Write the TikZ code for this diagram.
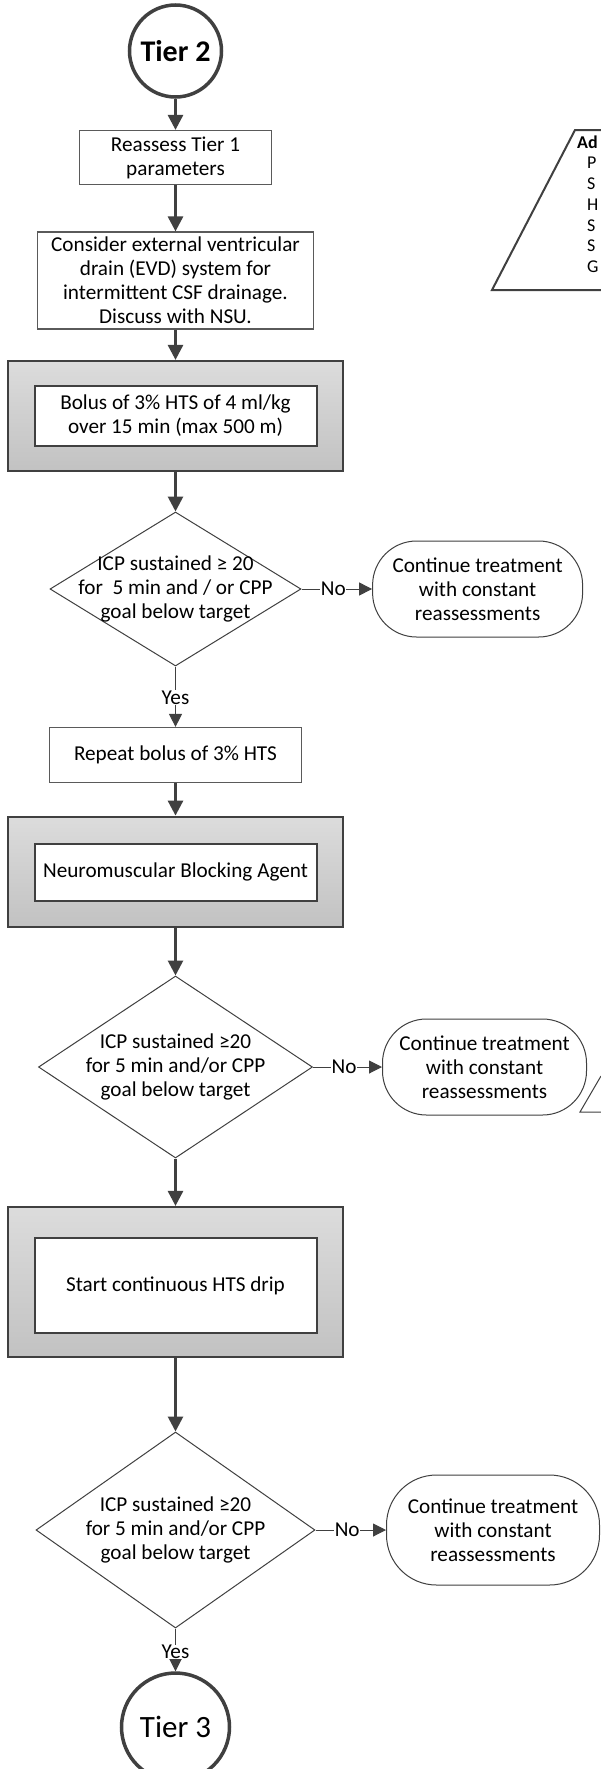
\documentclass[tikz,border=0pt]{standalone}
\usepackage{fontspec}
\setmainfont{Carlito}
\usetikzlibrary{shapes.geometric,arrows.meta}
\definecolor{dk}{HTML}{404040}
\definecolor{bd}{HTML}{5A5A5A}
\definecolor{gtop}{HTML}{DCDCDC}
\definecolor{gbot}{HTML}{C2C2C2}
\begin{document}
\begin{tikzpicture}[x=1pt,y=-1pt,
  every node/.style={font=\fontsize{21.2}{24}\selectfont, text=black, align=center},
  tiercirc/.style={circle, draw=dk, line width=3.5pt, inner sep=0pt, fill=white},
  plainbox/.style={rectangle, draw=bd, line width=1.2pt, inner sep=0pt, fill=white},
  bigbox/.style={rectangle, draw=dk, line width=2.2pt, inner sep=0pt, top color=gtop, bottom color=gbot},
  innerbox/.style={rectangle, draw=dk, line width=2pt, inner sep=0pt, fill=white},
  decbox/.style={diamond, draw=dk, line width=1pt, inner sep=0pt, fill=white},
  ovalbox/.style={rectangle, rounded corners=44pt, draw=dk, line width=1pt, inner sep=0pt, fill=white},
  flowarrow/.style={draw=dk, line width=2.8pt, -{Triangle[length=15pt,width=15pt]}},
  thinarrow/.style={draw=dk, line width=1pt, -{Triangle[length=13pt,width=13pt]}},
  lab/.style={fill=white, inner sep=0.5pt},
  sidetxt/.style={anchor=west, inner sep=0pt, font=\fontsize{18}{21}\selectfont}
]
\useasboundingbox (0,0) rectangle (601,1769);
\fill[white] (0,0) rectangle (601,1769);

% partial side shapes
\draw[dk, line width=2pt] (601,130) -- (575,130) -- (492,290) -- (601,290);
\node[sidetxt, font=\bfseries\fontsize{18}{21}\selectfont] (s0) at (577,142) {Ad};
\node[sidetxt] (s1) at (587,163) {P};
\node[sidetxt] (s2) at (587,184) {S};
\node[sidetxt] (s3) at (587,205) {H};
\node[sidetxt] (s4) at (587,226) {S};
\node[sidetxt] (s5) at (587,246) {S};
\node[sidetxt] (s6) at (587,267) {G};
\draw[dk, line width=1pt] (601,1076) -- (580,1112) -- (601,1112);

% main column
\node[tiercirc, minimum size=92pt, font=\bfseries\fontsize{30}{34}\selectfont] (t2) at (175.5,51) {Tier 2};
\node[plainbox, minimum width=192pt, minimum height=54pt] (b1) at (175.5,157.5) {Reassess Tier 1\\parameters};
\node[plainbox, minimum width=276pt, minimum height=97pt] (b2) at (175.5,280.5) {Consider external ventricular\\drain (EVD) system for\\intermittent CSF drainage.\\Discuss with NSU.};
\node[bigbox, minimum width=335pt, minimum height=110pt] (g1) at (175.5,416) {};
\node[innerbox, minimum width=282pt, minimum height=60pt] (i1) at (175.5,416) {Bolus of 3\% HTS of 4 ml/kg\\over 15 min (max 500 m)};
\node[decbox, minimum width=251pt, minimum height=154pt] (d1) at (175.5,589) {};
\node (d1t) at (175.5,589) {ICP sustained ≥ 20\\for~ 5 min and / or CPP\\goal below target};
\node[ovalbox, minimum width=210pt, minimum height=96pt] (o1) at (477.6,589) {Continue treatment\\with constant\\reassessments};
\node[plainbox, minimum width=251.5pt, minimum height=55pt] (rp) at (175.5,755) {Repeat bolus of 3\% HTS};
\node[bigbox, minimum width=335pt, minimum height=110pt] (g2) at (175.5,871.7) {};
\node[innerbox, minimum width=282pt, minimum height=57pt] (i2) at (175.5,872) {Neuromuscular Blocking Agent};
\node[decbox, minimum width=274pt, minimum height=182pt] (d2) at (175.5,1067) {};
\node (d2t) at (175.5,1067) {ICP sustained ≥20\\for 5 min and/or CPP\\goal below target};
\node[ovalbox, minimum width=204pt, minimum height=96pt] (o2) at (484.5,1067) {Continue treatment\\with constant\\reassessments};
\node[bigbox, minimum width=335pt, minimum height=150pt] (g3) at (175.5,1282) {};
\node[innerbox, minimum width=282pt, minimum height=95pt] (i3) at (175.5,1285.5) {Start continuous HTS drip};
\node[decbox, minimum width=279pt, minimum height=196pt] (d3) at (175.5,1530) {};
\node (d3t) at (175.5,1530) {ICP sustained ≥20\\for 5 min and/or CPP\\goal below target};
\node[ovalbox, rounded corners=50pt, minimum width=213pt, minimum height=110pt] (o3) at (493,1530) {Continue treatment\\with constant\\reassessments};
\node[tiercirc, minimum size=108pt, font=\fontsize{31}{35}\selectfont] (t3) at (175.5,1727) {Tier 3};

% connectors
\draw[flowarrow] (t2) -- (b1);
\draw[flowarrow] (b1) -- (b2);
\draw[flowarrow] (b2) -- (g1);
\draw[flowarrow] (g1) -- (d1);
\draw[thinarrow] (d1.east) -- node[lab, pos=0.45] (n1) {No} (o1.west);
\draw[thinarrow] (d1.south) -- node[lab, pos=0.51] (y1) {Yes} (rp.north);
\draw[flowarrow] (rp) -- (g2);
\draw[flowarrow] (g2) -- (d2);
\draw[thinarrow] (d2.east) -- node[lab, pos=0.45] (n2) {No} (o2.west);
\draw[flowarrow] (d2.south) -- (g3);
\draw[flowarrow] (g3) -- (d3);
\draw[thinarrow] (d3.east) -- node[lab, pos=0.45] (n3) {No} (o3.west);
\draw[thinarrow] (d3.south) -- node[lab, pos=0.55] (y3) {Yes} (t3.north);
\end{tikzpicture}
\end{document}
